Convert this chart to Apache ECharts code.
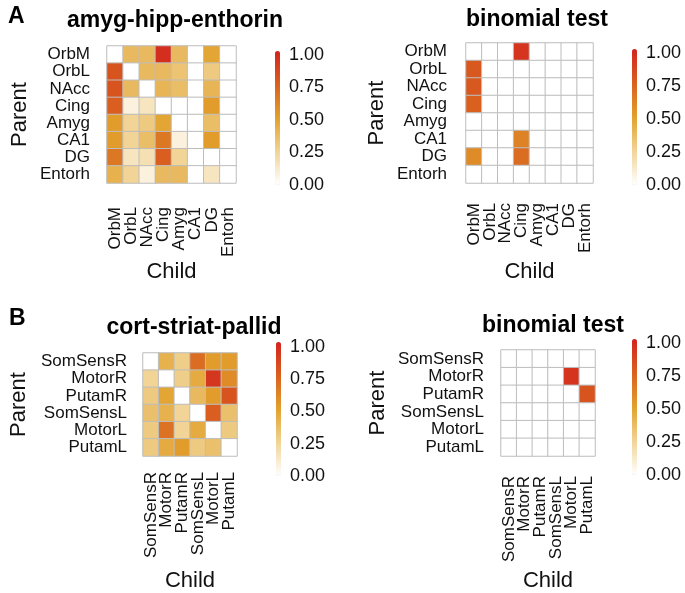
<!DOCTYPE html>
<html>
<head>
<meta charset="utf-8">
<script src="https://cdn.jsdelivr.net/npm/echarts@6/dist/echarts.min.js"></script>
<style>
  html, body { margin: 0; padding: 0; background: #fff; }
  #chart { width: 685px; height: 593px; }
</style>
</head>
<body>
<div id="chart"></div>
<script>
// regions for panel A and B
const regionsA = ["OrbM", "OrbL", "NAcc", "Cing", "Amyg", "CA1", "DG", "Entorh"];
const regionsB = ["SomSensR", "MotorR", "PutamR", "SomSensL", "MotorL", "PutamL"];

// rows = parent, cols = child
const valuesA = [
  [0.00, 0.38, 0.38, 0.95, 0.38, 0.00, 0.48, 0.00],
  [0.80, 0.00, 0.38, 0.38, 0.33, 0.00, 0.30, 0.00],
  [0.80, 0.38, 0.00, 0.40, 0.36, 0.00, 0.40, 0.00],
  [0.76, 0.08, 0.15, 0.00, 0.00, 0.00, 0.52, 0.00],
  [0.52, 0.25, 0.30, 0.48, 0.00, 0.00, 0.36, 0.00],
  [0.52, 0.25, 0.36, 0.66, 0.08, 0.00, 0.52, 0.00],
  [0.66, 0.15, 0.18, 0.76, 0.25, 0.00, 0.00, 0.00],
  [0.42, 0.25, 0.08, 0.38, 0.38, 0.00, 0.15, 0.00]
];
const binomA = [
  [0.00, 0.00, 0.00, 0.93, 0.00, 0.00, 0.00, 0.00],
  [0.78, 0.00, 0.00, 0.00, 0.00, 0.00, 0.00, 0.00],
  [0.78, 0.00, 0.00, 0.00, 0.00, 0.00, 0.00, 0.00],
  [0.75, 0.00, 0.00, 0.00, 0.00, 0.00, 0.00, 0.00],
  [0.00, 0.00, 0.00, 0.00, 0.00, 0.00, 0.00, 0.00],
  [0.00, 0.00, 0.00, 0.62, 0.00, 0.00, 0.00, 0.00],
  [0.58, 0.00, 0.00, 0.70, 0.00, 0.00, 0.00, 0.00],
  [0.00, 0.00, 0.00, 0.00, 0.00, 0.00, 0.00, 0.00]
];
const valuesB = [
  [0.00, 0.42, 0.28, 0.70, 0.52, 0.52],
  [0.25, 0.00, 0.28, 0.45, 0.92, 0.58],
  [0.30, 0.48, 0.00, 0.38, 0.52, 0.80],
  [0.35, 0.42, 0.25, 0.00, 0.76, 0.35],
  [0.30, 0.68, 0.25, 0.45, 0.00, 0.30],
  [0.30, 0.45, 0.52, 0.30, 0.35, 0.00]
];
const binomB = [
  [0.00, 0.00, 0.00, 0.00, 0.00, 0.00],
  [0.00, 0.00, 0.00, 0.00, 0.93, 0.00],
  [0.00, 0.00, 0.00, 0.00, 0.00, 0.80],
  [0.00, 0.00, 0.00, 0.00, 0.00, 0.00],
  [0.00, 0.00, 0.00, 0.00, 0.00, 0.00],
  [0.00, 0.00, 0.00, 0.00, 0.00, 0.00]
];
const legendTicks = [0, 0.25, 0.5, 0.75, 1];

const FONT = "'Liberation Sans', Arial, Helvetica, sans-serif";
const colors = ["#ffffff", "#f1d496", "#e2a12c", "#d9601f", "#d3231e"];

function toCells(matrix) {
  const out = [];
  matrix.forEach((row, r) => row.forEach((v, c) => out.push([c, r, v])));
  return out;
}

// layout of each panel
const panels = [
  { labels: regionsA, data: valuesA, grid: { left: 107, top: 46, width: 129, height: 137 },
    ym: 17, xm: 24, pGap: 76, cGap: 78, bar: { left: 275, top: 55, h: 130, top0: 51 } },
  { labels: regionsA, data: binomA, grid: { left: 466, top: 43, width: 127, height: 140 },
    ym: 19, xm: 20, pGap: 78, cGap: 78, bar: { left: 632, top: 53, h: 132, top0: 49 } },
  { labels: regionsB, data: valuesB, grid: { left: 143, top: 353, width: 94, height: 104 },
    ym: 16, xm: 16, pGap: 113, cGap: 114, bar: { left: 276, top: 347, h: 129, top0: 342 } },
  { labels: regionsB, data: binomB, grid: { left: 501, top: 350, width: 94, height: 107 },
    ym: 17, xm: 20, pGap: 112, cGap: 114, bar: { left: 632, top: 343, h: 132, top0: 339 } }
];

const grid = [], xAxis = [], yAxis = [], series = [], visualMap = [];

panels.forEach((p, i) => {
  grid.push(p.grid);
  xAxis.push({
    type: "category", gridIndex: i, data: p.labels,
    name: "Child", nameLocation: "middle", nameGap: p.cGap,
    nameTextStyle: { fontSize: 22, color: "#111", fontFamily: FONT },
    axisLine: { show: false }, axisTick: { show: false }, splitLine: { show: false },
    axisLabel: { rotate: 90, fontSize: 17, color: "#111", fontFamily: FONT, margin: p.xm, interval: 0 }
  });
  yAxis.push({
    type: "category", gridIndex: i, data: p.labels, inverse: true,
    name: "Parent", nameLocation: "middle", nameGap: p.pGap,
    nameTextStyle: { fontSize: 22, color: "#111", fontFamily: FONT },
    axisLine: { show: false }, axisTick: { show: false }, splitLine: { show: false },
    axisLabel: { fontSize: 17, color: "#111", fontFamily: FONT, margin: p.ym, interval: 0 }
  });
  series.push({
    type: "heatmap", xAxisIndex: i, yAxisIndex: i,
    data: toCells(p.data),
    itemStyle: { borderColor: "#bdbdbd", borderWidth: 1 },
    emphasis: { disabled: true }
  });
  visualMap.push({
    type: "continuous", seriesIndex: i, min: 0, max: 1,
    calculable: false, hoverLink: false, padding: 0,
    orient: "vertical", left: p.bar.left, top: p.bar.top0,
    itemWidth: 5, itemHeight: p.bar.top + p.bar.h - p.bar.top0,
    text: ["", ""], showLabel: false,
    inRange: { color: colors }
  });
});

// colour bar tick labels drawn with a value axis
panels.forEach((p, i) => {
  const gi = panels.length + i;
  grid.push({ left: p.bar.left, top: p.bar.top, width: 5, height: p.bar.h });
  xAxis.push({ type: "value", gridIndex: gi, show: false });
  yAxis.push({
    type: "value", gridIndex: gi, position: "right", min: 0, max: 1, interval: 0.25,
    axisLine: { show: false }, splitLine: { show: false },
    axisTick: { show: true, inside: true, length: 2, lineStyle: { color: "#ffffff", width: 1 } },
    axisLabel: {
      margin: 9, fontSize: 18, color: "#111", fontFamily: FONT,
      formatter: (v) => legendTicks.includes(v) ? v.toFixed(2) : ""
    }
  });
});

const titleStyle = { fontSize: 23, fontWeight: "bold", color: "#000", fontFamily: FONT };

const chart = echarts.init(document.getElementById("chart"));
chart.setOption({
  backgroundColor: "#ffffff",
  animation: false,
  title: [
    { text: "A", left: 3, top: 0, textStyle: { fontSize: 23, fontWeight: "bold", color: "#000", fontFamily: FONT } },
    { text: "B", left: 4, top: 302, textStyle: { fontSize: 23, fontWeight: "bold", color: "#000", fontFamily: FONT } },
    { text: "amyg-hipp-enthorin", left: 170, top: 4, textAlign: "center", textStyle: titleStyle },
    { text: "binomial test", left: 532, top: 3, textAlign: "center", textStyle: titleStyle },
    { text: "cort-striat-pallid", left: 189, top: 311, textAlign: "center", textStyle: titleStyle },
    { text: "binomial test", left: 548, top: 309, textAlign: "center", textStyle: titleStyle }
  ],
  grid: grid,
  xAxis: xAxis,
  yAxis: yAxis,
  visualMap: visualMap,
  series: series
});
</script>
</body>
</html>
